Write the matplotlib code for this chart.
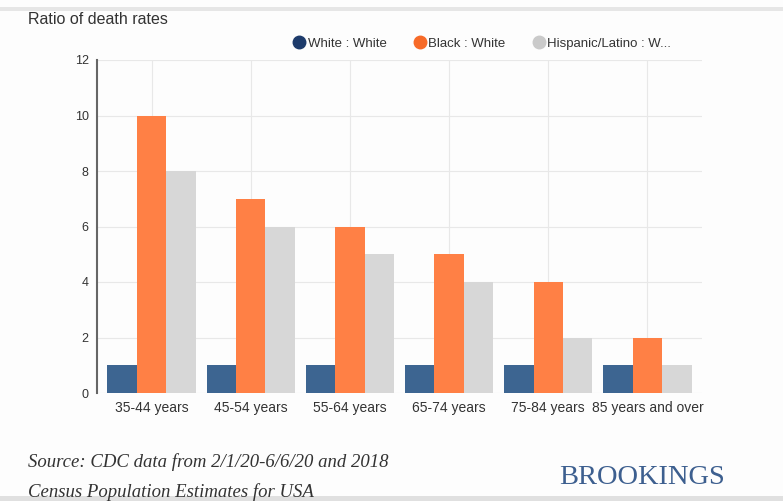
import matplotlib
matplotlib.use("Agg")
import matplotlib.pyplot as plt
import numpy as np
from matplotlib.patches import Rectangle
from matplotlib.lines import Line2D

plt.rcParams['font.family'] = ['Liberation Sans', 'DejaVu Sans']

categories = ["35-44 years", "45-54 years", "55-64 years", "65-74 years", "75-84 years", "85 years and over"]
white_white = [1, 1, 1, 1, 1, 1]
black_white = [10, 7, 6, 5, 4, 2]
hispanic_white = [8, 6, 5, 4, 2, 1]
series_names = ["White : White", "Black : White", "Hispanic/Latino : W..."]
yticks = [0, 2, 4, 6, 8, 10, 12]

bar_colors = ["#3d6591", "#ff8045", "#d7d7d7"]
legend_colors = ["#1d3b6b", "#f76a28", "#cacaca"]

fig = plt.figure(figsize=(7.83, 5.01), dpi=100)
fig.patch.set_facecolor("#fdfdfd")

# top and bottom gray bands
fig.add_artist(Rectangle((0, 1 - 11/501), 1, 4/501, transform=fig.transFigure, color="#e6e6e6", lw=0))
fig.add_artist(Rectangle((0, 0), 1, 5/501, transform=fig.transFigure, color="#e0e0e0", lw=0))

ax = fig.add_axes([97/783, 1 - 393/501, (702 - 97)/783, (393 - 60)/501])
ax.set_facecolor("#fdfdfd")
x = np.arange(len(categories))
w = 0.297
for i, (vals, c) in enumerate(zip([white_white, black_white, hispanic_white], bar_colors)):
    ax.bar(x + (i - 1) * w, vals, width=w, color=c, zorder=3, linewidth=0)

ax.set_xlim(-0.55, 5.55)
ax.set_ylim(0, 12)
ax.set_yticks(yticks)
ax.set_yticklabels([str(t) for t in yticks], fontsize=9, color="#333333")
ax.set_xticks(x)
ax.set_xticklabels(categories, fontsize=10, color="#333333")
ax.tick_params(axis="x", length=0, pad=6)
ax.tick_params(axis="y", length=0, pad=6)
ax.grid(True, color="#e8e8e8", linewidth=0.8, zorder=0)
for s in ["top", "right", "bottom"]:
    ax.spines[s].set_visible(False)
ax.spines["left"].set_color("#666666")
ax.spines["left"].set_linewidth(1.5)

fig.text(28/783, 1 - 19/501, "Ratio of death rates", fontsize=11.5, color="#333333", va="center", ha="left")

handles = [Line2D([0], [0], marker="o", color="none", markerfacecolor=c, markeredgecolor=c, markersize=9)
           for c in legend_colors]
fig.legend(handles, series_names, loc="center left", bbox_to_anchor=(281/783, 1 - 44/501),
           ncol=3, frameon=False, fontsize=9.5, handletextpad=0.15, columnspacing=2.0,
           handlelength=1.0, labelcolor="#333333")

fig.text(28/783, 1 - 462/501, "Source: CDC data from 2/1/20-6/6/20 and 2018", fontsize=13.5,
         family="Liberation Serif", style="italic", color="#333333", va="center", ha="left")
fig.text(28/783, 1 - 492/501, "Census Population Estimates for USA", fontsize=13.5,
         family="Liberation Serif", style="italic", color="#333333", va="center", ha="left")
fig.text(642/783, 1 - 477/501, "BROOKINGS", fontsize=20.5, family="Liberation Serif",
         color="#3d5f8f", va="center", ha="center")

fig.savefig("out.png", dpi=100, facecolor=fig.get_facecolor())
